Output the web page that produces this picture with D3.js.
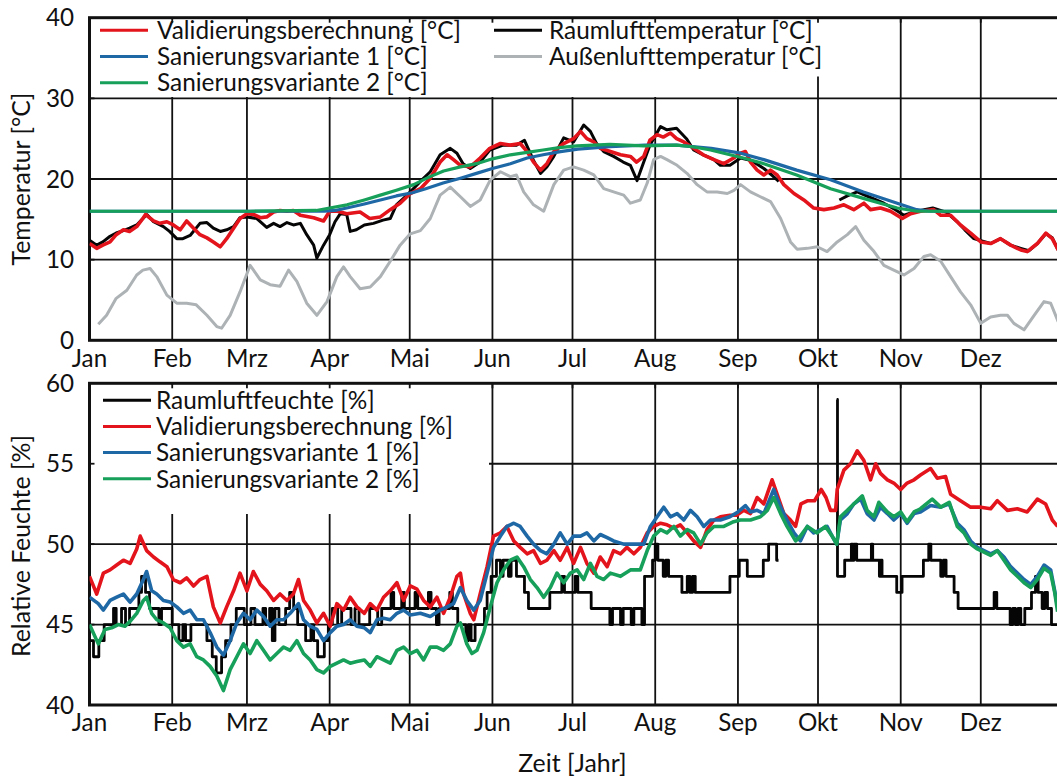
<!DOCTYPE html>
<html><head><meta charset="utf-8">
<script src="https://cdn.jsdelivr.net/npm/d3@7"></script>
<style>html,body{margin:0;padding:0;background:#fff}svg{display:block}</style>
</head><body>
<script>
// ---------- DATA (day of year, value) ----------
const monthNames = ["Jan","Feb","Mrz","Apr","Mai","Jun","Jul","Aug","Sep","Okt","Nov","Dez"];
const tempTicks = [0,10,20,30,40];
const rhTicks = [40,45,50,55,60];

const tempLabels = ["Validierungsberechnung [°C]","Sanierungsvariante 1 [°C]","Sanierungsvariante 2 [°C]","Raumlufttemperatur [°C]","Außenlufttemperatur [°C]"];
const rhLabels = ["Raumluftfeuchte [%]","Validierungsberechnung [%]","Sanierungsvariante 1 [%]","Sanierungsvariante 2 [%]"];

const raumTemp = [[0,12.4],[2.7,11.8],[5,12.2],[7.7,12.9],[10,13.3],[12.7,13.6],[15,13.9],[17.7,14.3],[20,15.1],[21.5,15.6],[24,14.7],[27.7,14.1],[30,13.5],[32.7,12.6],[35,12.6],[37.7,13.0],[41.4,14.5],[44,14.6],[46.4,13.9],[49,13.5],[51.4,13.7],[54,14.1],[56.4,15.2],[59,15.3],[62.7,15.1],[66.4,14.0],[69,14.5],[71.4,14.1],[74,14.6],[76.4,14.3],[79,14.5],[81.4,13.1],[84,11.8],[85.2,10.2],[87.7,11.8],[90,13.1],[92,14.7],[94,15.7],[96.4,15.6],[97.7,13.5],[100,13.7],[103,14.3],[106.4,14.5],[110,14.9],[112.7,15.1],[115,16.8],[119,18.0],[121.4,18.8],[124,19.7],[127.7,20.9],[131.4,23.0],[135.2,23.8],[137.7,23.2],[140,21.9],[142.7,21.3],[146.4,22.1],[150,23.6],[155,24.2],[160,24.2],[163,24.8],[166.4,22.3],[169,20.7],[171.4,21.5],[174,22.8],[177.7,25.1],[181.4,24.6],[185.2,26.7],[187.7,25.9],[190,24.4],[192.7,23.4],[196.4,22.8],[200,22.1],[202.7,21.7],[205.2,19.8],[207.7,22.1],[210,24.2],[214,26.5],[216.4,26.1],[220,26.3],[223.7,25.0],[226.4,23.6],[230,23.0],[234,22.4],[236.4,21.7],[240,21.7],[244,22.6],[248,22.3],[252.7,21.3],[256,20.4],[258.3,19.7],[259,null],[281,17.4],[284,17.9],[287.7,18.4],[292,17.8],[297.7,17.0],[302,16.2],[305.2,15.5],[310,16.0],[316,16.4],[321,15.9],[325.2,14.7],[328,13.7],[331.4,12.6],[337.7,12.0],[341.4,12.6],[345.2,11.8],[349,11.4],[352,11.1],[355.2,12.0],[358.4,13.2],[360.8,12.7],[363,11.2]];

const validTemp = [[0,12.0],[2.7,11.4],[5,11.8],[7.7,12.2],[10,13.1],[12.7,13.7],[15,13.5],[17.7,14.1],[20,15.1],[21,15.6],[24,14.8],[26.4,14.5],[29,14.7],[31.4,14.3],[34,13.7],[36.4,14.8],[39,13.9],[41.4,13.1],[44,12.7],[46.4,12.2],[49,11.6],[51.4,12.6],[54,13.9],[56.4,15.1],[59,15.7],[61.5,15.6],[64,15.2],[66.4,15.3],[69,15.9],[71.4,16.1],[74,16.0],[76.4,16.1],[79,15.5],[84,15.2],[87.7,14.8],[90,16.0],[93,16.0],[96.4,15.7],[101.4,15.9],[105,15.1],[109,15.3],[112.7,16.2],[116.4,17.0],[120.2,18.2],[124,18.8],[127.7,20.1],[131.4,22.1],[134,23.0],[136.4,22.4],[139,21.7],[142.7,21.5],[146.4,22.6],[150,23.8],[154,24.4],[157.7,24.2],[161.4,24.4],[164,23.4],[166.4,22.1],[169,21.1],[171.4,21.9],[174,23.4],[177.7,24.4],[181.4,25.0],[184,25.9],[186.4,25.0],[189,24.6],[191.4,23.8],[195.2,23.4],[199,23.0],[202.7,22.8],[205,22.1],[207.7,22.8],[210,24.8],[212.7,25.5],[215,25.2],[217.7,25.7],[220,25.0],[222.7,24.6],[226.4,23.8],[230,23.0],[234,22.4],[237.7,21.9],[241.4,22.6],[244,23.2],[245.8,23.4],[247.7,22.1],[250.2,21.1],[252.7,20.5],[255.2,21.1],[257.7,20.5],[260.2,19.3],[264,18.2],[267.7,17.4],[271.4,16.4],[275.2,16.2],[279,16.4],[282.7,16.8],[286.4,16.2],[290.2,17.0],[292.7,16.2],[296.4,16.4],[300.2,16.0],[304.6,15.1],[307.7,15.7],[311.4,16.0],[316.4,16.2],[319,15.5],[322.7,15.5],[326.4,14.3],[330.2,13.3],[334,12.2],[337.7,12.0],[341.4,12.6],[345.2,11.8],[349,11.2],[351.4,11.0],[355.2,12.0],[358.4,13.3],[360.8,12.6],[363,11.2]];

const san1Temp = [[0,16],[60,16],[88,16],[92,16.1],[96.4,16.4],[103,16.9],[109,17.4],[115,17.9],[121,18.3],[126,18.8],[132.5,19.5],[139,20.1],[145,20.7],[151,21.3],[157.7,21.9],[164,22.6],[170,23.0],[176.5,23.4],[183,23.7],[195,24.0],[208,24.2],[220,24.2],[233,23.8],[244,23.2],[252.7,22.4],[265,21.1],[277.7,19.9],[290,18.4],[302.7,17.0],[310,16.2],[315,16.0],[363,16.0]];

const san2Temp = [[0,16],[60,16],[85,16.1],[90,16.4],[96.5,16.8],[103,17.4],[109,18.0],[115,18.6],[121.5,19.3],[127,20.2],[132.7,21.0],[139,21.5],[145,21.9],[151,22.5],[157.7,23.0],[164,23.3],[170,23.6],[176,23.9],[182.7,24.1],[195,24.3],[207.7,24.1],[220,24.2],[226,24.0],[232.7,23.6],[240,23.0],[245,22.6],[252.7,21.9],[265,20.5],[277.7,18.8],[290,17.6],[302.7,16.4],[310,16.0],[363,16.0]];

const aussenTemp = [[3.3,2.0],[6.4,3.1],[10,5.2],[14,6.2],[17.7,8.1],[20,8.7],[22.7,8.9],[25.2,7.9],[29,5.6],[32.7,4.6],[36.4,4.6],[40,4.4],[44,3.1],[47.7,1.7],[49.5,1.5],[52.7,3.1],[56.4,6.0],[60.2,9.3],[64,7.5],[67.7,6.9],[71.4,6.7],[74.6,8.7],[77.7,7.3],[81.4,4.6],[85.2,3.1],[89,4.8],[92.7,7.9],[95.2,9.1],[97.7,7.9],[101.4,6.4],[105.2,6.6],[109,7.9],[112.7,9.8],[116.4,11.8],[120.2,13.2],[124,13.6],[127.7,15.1],[131.4,18.0],[135.2,19.0],[139,17.8],[142.7,16.6],[146.4,17.4],[150.2,19.9],[154,20.9],[157.7,20.3],[160,20.5],[162.7,18.4],[166.4,16.8],[170.2,16.0],[174,19.3],[177.7,21.1],[181.4,21.5],[185.2,21.1],[189,20.5],[192.7,18.8],[196.4,18.4],[200.2,18.0],[202.7,17.0],[206.4,17.4],[209,19.5],[211.4,22.4],[214,22.8],[216.4,22.4],[220.2,21.7],[223.9,20.7],[227.7,19.3],[231.4,18.4],[235.2,18.4],[239,18.2],[241.5,18.6],[244,19.3],[247.7,18.4],[251.4,17.8],[255.2,17.2],[259,15.1],[262.7,12.2],[265.2,11.3],[269,11.4],[272.7,11.6],[276.4,11.0],[280.2,12.2],[284,13.1],[287.1,14.1],[290.2,12.4],[294,11.0],[297.7,9.3],[301.4,8.7],[305.2,8.1],[309,8.9],[312.7,10.4],[315.2,10.6],[319,9.8],[322.7,7.9],[326.4,6.0],[330.2,4.4],[334,2.1],[337.7,2.9],[341.4,3.1],[344,3.1],[346.4,2.1],[350.2,1.3],[354,3.1],[357.7,4.8],[360.2,4.6],[363,2.3]];

const raumRH = [[0,44],[1.5,43],[3.5,44],[5.5,45],[9,46],[10,45],[12,46],[13.5,45],[15,46],[18.5,47],[19.5,48],[21,47],[22.5,46],[26,45],[27,46],[29.5,46],[31,45],[33.5,44],[35,45],[36,44],[38,45],[44,44],[46,43],[47.5,42],[49.5,43],[51,44],[53,45],[55,46],[58,45],[60.5,46],[62,45],[65,46],[66,45],[67.5,46],[68.5,44],[69.5,46],[71,45],[73.5,46],[75,47],[76.5,46],[78,45],[81,44],[83,45],[84,44],[85.5,43],[88,44],[89.5,45],[91,46],[93,45],[94.5,46],[98,45],[99.5,46],[101,45],[103,45],[105,46],[108,45],[109.5,46],[113,47],[114,46],[117,47],[118,46],[122,47],[123,46],[127,47],[128,46],[130,45],[131,46],[135,47],[136,46],[138,45],[141,44],[142,45],[143,44],[144.5,45],[148,46],[149,47],[150.5,48],[152.5,49],[154,48],[155,49],[157,48],[158,49],[160,48],[163,47],[164.5,46],[172.5,47],[177,48],[178,47],[182,48],[183,47],[188,46],[195,45],[196,46],[199,45],[200,46],[203,45],[204,46],[207,45],[208,48],[211,49],[212,50],[213,49],[215,48],[216,49],[217,48],[222,47],[224,48],[225,47],[226,48],[227,47],[240,48],[243.5,49],[246.5,48],[252.5,49],[254.5,50],[257.5,49],[258.2,49],[258.3,null],[280,59],[280.3,48],[283,49],[285.5,50],[286,49],[286.5,50],[287.5,49],[293,50],[293.5,49],[296,48],[296.5,49],[297,48],[302.5,47],[304.5,48],[312.5,49],[314.5,50],[315.3,49],[319,48],[320,49],[321,48],[324,47],[325.5,46],[339,47],[340,46],[345,45],[346,46],[347,45],[348,46],[349,45],[350.5,46],[353,47],[354.5,48],[355.5,47],[357,46],[358,47],[359,46],[360.5,45],[363,45]];

const validRH = [[0,48.0],[2.7,46.9],[5.2,48.2],[7.7,48.4],[10.2,48.7],[12.7,49.0],[15.2,48.8],[17.7,49.7],[19,50.5],[21.4,49.6],[24,49.2],[26.4,48.9],[29,48.6],[31.4,47.8],[34,47.6],[36.4,47.9],[39,47.4],[41.4,47.8],[44,48.0],[46.4,46.1],[49,45.1],[51.4,46.1],[54,47.1],[56.4,48.2],[59,47.1],[61.4,48.3],[64,47.5],[66.4,47.1],[69,46.5],[71.4,46.9],[74,46.5],[76.4,46.9],[78.3,47.8],[80.2,46.5],[82.7,45.9],[85.2,45.1],[87.7,45.7],[90.2,44.9],[92.7,46.3],[95.2,45.9],[97.7,46.7],[100.2,46.1],[103,45.7],[105.2,46.3],[107.7,45.9],[110.2,46.7],[112.7,47.1],[115.2,47.6],[117.7,46.5],[120.2,47.4],[122.7,47.2],[125.2,46.5],[127.7,46.1],[130.2,46.7],[132.7,45.7],[135.2,46.7],[137.7,48.0],[139,48.2],[140.2,46.9],[142.7,45.7],[144,45.3],[146.4,46.9],[149,48.6],[151.4,50.5],[154,50.7],[156.4,51.1],[159,50.2],[161.4,49.8],[164,49.4],[166.4,49.6],[169,48.8],[171.4,49.0],[174,49.6],[176.4,49.0],[179,49.8],[181.4,48.8],[184,49.8],[186.4,48.8],[189,48.2],[191.4,49.2],[194,48.6],[196.4,49.6],[199,49.4],[201.4,49.8],[204,49.4],[206.4,49.8],[209,50.7],[211.4,51.1],[214,51.3],[216.4,51.2],[219,51.0],[221.4,51.2],[224,50.7],[226.4,50.2],[229,49.8],[231.4,50.9],[234,51.5],[236.4,51.7],[240,51.8],[242.5,51.8],[245.2,52.1],[247.7,51.9],[250.2,52.9],[252.7,52.5],[255.8,54.0],[257.7,53.1],[260.2,51.9],[262.7,51.5],[264.6,51.1],[266.6,52.5],[269.2,52.7],[271.7,52.7],[274.2,53.4],[276,52.9],[277.7,52.1],[279.6,52.1],[280.2,53.4],[282.7,54.6],[285.2,55.0],[287.7,55.8],[290.2,55.2],[292.7,54.0],[294.6,55.0],[296.4,54.4],[299,54.0],[301.4,53.8],[304,53.4],[306.4,53.8],[309,54.0],[311.4,54.3],[315.2,54.7],[317.7,54.1],[320.8,54.2],[322.7,53.1],[326.4,52.7],[330.2,52.3],[334,52.3],[337.7,52.2],[340.2,52.7],[344,52.1],[347.7,52.2],[351.4,52.0],[355.2,52.8],[358.3,52.5],[360.8,51.5],[362.8,51.1]];

const san1RH = [[0,46.7],[3.3,46.3],[5.2,45.9],[7.7,46.5],[10.2,46.7],[12.7,46.9],[15.2,46.4],[17.7,46.9],[20.2,47.8],[21.4,48.3],[23.3,47.1],[25.2,46.9],[27.7,46.5],[30.2,46.4],[32.7,46.1],[35.2,45.7],[37.7,45.9],[40.2,45.3],[42.7,45.3],[45.2,44.5],[47.7,43.6],[50.2,43.1],[52.7,44.0],[55.2,45.1],[57.7,45.7],[60.2,45.3],[62.7,45.9],[65.2,45.5],[67.7,44.9],[70.2,45.3],[72.7,45.3],[75.2,45.7],[78.3,46.3],[80.2,45.3],[82.7,44.9],[85.2,44.7],[87.7,44.0],[90.2,44.5],[92.7,44.9],[95.2,45.0],[97.7,45.3],[100.2,44.9],[103,44.8],[105.2,44.5],[107.7,45.3],[110.2,45.4],[112.7,45.3],[115.2,45.7],[117.7,45.9],[120.2,45.6],[124,45.7],[127.7,45.5],[131.4,45.9],[134,46.1],[136.4,46.3],[139,47.3],[141.4,46.5],[144,45.9],[146.4,46.5],[149,48.2],[151.4,49.8],[154,50.5],[156.4,51.1],[159,51.3],[161.4,51.1],[164,50.5],[166.4,50.0],[169,49.6],[171.4,49.4],[174,50.0],[176.4,50.7],[179,50.0],[181.4,50.5],[184,50.5],[186.4,50.7],[189,50.2],[191.4,50.6],[194,50.4],[196.4,50.2],[200.2,50.0],[204,50.0],[207.7,50.0],[210.2,51.1],[212.7,51.7],[215.2,52.3],[217.7,51.7],[220.2,51.9],[222.7,51.5],[225.2,52.1],[227.7,51.7],[230.2,51.1],[232.7,51.5],[236.4,51.5],[240,51.7],[243,52.0],[245.8,52.4],[247.7,52.0],[250.2,52.1],[252.7,51.9],[256.4,53.4],[259,52.3],[261.4,51.5],[264,50.7],[266.4,50.2],[269,51.1],[271.4,50.7],[274,50.9],[276.4,51.1],[278.3,50.5],[280,50.0],[281.4,51.5],[284,51.9],[286.4,52.5],[289,52.8],[291.4,51.9],[294,51.5],[296.4,52.3],[299,51.9],[301.4,51.5],[304,51.9],[306.4,51.3],[309,51.9],[311.4,52.0],[315.2,52.4],[319,52.3],[322.2,52.5],[325.2,51.3],[327.7,50.9],[330.2,50.2],[332.7,49.8],[335.2,49.6],[337.7,49.4],[340.2,49.6],[342.7,49.2],[345.2,48.6],[347.7,48.2],[350.2,47.8],[352.7,47.5],[355.2,48.0],[357.7,48.7],[360.2,48.4],[361.7,47.1],[362.8,46.1]];

const san2RH = [[0,45.0],[3.3,43.8],[5.8,44.7],[8.3,44.8],[10.8,45.0],[13.3,44.9],[15.2,45.2],[17.7,45.7],[20.2,46.5],[21.4,46.7],[23.3,45.7],[25.2,45.3],[27.7,45.1],[30.2,44.8],[32.7,44.0],[35.2,43.6],[37.7,43.8],[40.2,43.0],[42.7,42.8],[45.2,42.4],[47.7,41.8],[50.2,40.9],[52.7,42.2],[55.2,43.0],[57.7,43.8],[60.2,43.2],[62.7,44.0],[65.2,43.4],[67.7,42.8],[70.2,43.2],[72.7,43.6],[75.2,43.4],[77.7,44.0],[80.2,43.2],[82.7,42.8],[85.2,42.2],[87.7,42.0],[90.2,42.4],[92.7,42.6],[95.2,42.8],[97.7,42.6],[100.2,42.7],[103,42.8],[105.2,42.4],[107.7,43.0],[110.2,42.8],[112.7,42.6],[115.2,43.4],[117.7,43.6],[120.2,43.2],[122.7,43.4],[125.2,42.8],[127.7,43.6],[130.2,43.6],[132.7,43.4],[135.2,43.8],[137.7,44.9],[139,45.1],[141.4,43.8],[143.3,43.2],[145.2,43.4],[147.7,44.5],[150.2,46.1],[152.7,47.6],[155.2,48.4],[157.7,49.0],[160.2,49.2],[162.7,48.6],[165.2,47.8],[167.7,47.3],[170.2,46.7],[172.7,47.3],[175.2,48.2],[177.7,47.6],[180.2,48.2],[182.7,48.4],[185.2,47.8],[187.7,48.8],[190.2,48.0],[192.7,47.8],[195.2,48.2],[199,48.0],[202.7,48.4],[206.4,48.4],[209,49.6],[211.4,50.5],[214,50.9],[216.4,50.7],[219,51.1],[221.4,50.5],[224,50.9],[226.4,50.7],[229,50.0],[231.4,50.7],[234,51.1],[237.7,51.1],[241.4,51.4],[243.9,51.5],[247.7,51.5],[251.4,51.7],[254,52.1],[256.4,52.9],[259,51.9],[261.4,51.1],[264.6,50.2],[266.4,50.5],[269,51.1],[272.7,50.7],[275.8,51.1],[278.3,50.5],[280,50.0],[281.4,51.7],[284,52.1],[286.4,52.5],[289.6,53.0],[291.4,52.1],[294,51.7],[295.8,52.6],[299,52.0],[301.4,51.7],[304,52.0],[306.4,51.4],[309,52.0],[311.4,52.2],[315.8,52.8],[319,52.3],[322.2,52.6],[325.2,51.1],[327.7,50.7],[330.2,50.0],[332.7,49.7],[335.2,49.5],[337.7,49.3],[340.2,49.6],[342.7,49.0],[345.2,48.4],[347.7,48.0],[350.2,47.6],[352.7,47.3],[355.2,47.8],[357.7,48.5],[360.2,48.2],[361.7,47.0],[362.8,45.8]];

// ---------- LAYOUT ----------
const W = 1057, H = 778;
const FONT = "Lato, 'Open Sans', sans-serif";
const C = {red:"#e3141b", blue:"#1f68a6", green:"#16a05a", black:"#050505", gray:"#adb2b5"};
const X0 = 89.5, X1 = 1063.5;
const topP = {y0: 17.7, y1: 340.3};
const botP = {y0: 383.3, y1: 705};

const t0 = Date.UTC(2021,0,1), t1 = Date.UTC(2022,0,1);
const x = d3.scaleUtc().domain([new Date(t0), new Date(t1)]).range([X0, X1]);
const dayDate = d => new Date(t0 + d*864e5);
const yT = d3.scaleLinear().domain([0,40]).range([topP.y1, topP.y0]);
const yH = d3.scaleLinear().domain([40,60]).range([botP.y1, botP.y0]);
const months = d3.utcMonth.range(new Date(t0), new Date(t1));

const svg = d3.select("body").append("svg").attr("width", W).attr("height", H)
  .style("font-family", FONT);
svg.append("rect").attr("width", W).attr("height", H).attr("fill", "#fff");

function fitSize(str, targetW, base) {
  const t = svg.append("text").attr("font-size", base).text(str);
  const w = t.node().getComputedTextLength();
  t.remove();
  return w > 0 ? base * targetW / w : base;
}
const fsLegend = fitSize("Validierungsberechnung [°C]", 304, 20);
const fsTitle = fitSize("Relative Feuchte [%]", 222, 20);
const fsTick = fitSize("Mai", 40, 20);

function panel(y, ticks, legendBoxes) {
  const g = svg.append("g");
  const ya = y.range()[1], yb = y.range()[0];
  g.selectAll(".vg").data(months.slice(1)).join("line")
    .attr("x1", d => x(d)).attr("x2", d => x(d)).attr("y1", ya).attr("y2", yb)
    .attr("stroke", "#111").attr("stroke-width", 1.8);
  g.selectAll(".hg").data(ticks.slice(1, -1)).join("line")
    .attr("x1", X0).attr("x2", X1).attr("y1", d => y(d)).attr("y2", d => y(d))
    .attr("stroke", "#111").attr("stroke-width", 1.8);
  legendBoxes.forEach(b => g.append("rect").attr("x", b[0]).attr("y", b[1])
    .attr("width", b[2]-b[0]).attr("height", b[3]-b[1]).attr("fill", "#fff"));
  g.selectAll(".tt").data(months.slice(1)).join("line")
    .attr("x1", d => x(d)).attr("x2", d => x(d)).attr("y1", ya).attr("y2", ya + 5)
    .attr("stroke", "#111").attr("stroke-width", 1.8);
  g.selectAll(".lt").data(ticks.slice(1, -1)).join("line")
    .attr("x1", X0).attr("x2", X0 + 5).attr("y1", d => y(d)).attr("y2", d => y(d))
    .attr("stroke", "#111").attr("stroke-width", 1.8);
  g.append("rect").attr("x", X0).attr("y", ya).attr("width", X1 - X0).attr("height", yb - ya)
    .attr("fill", "none").attr("stroke", "#111").attr("stroke-width", 3);
  g.selectAll(".yl").data(ticks).join("text")
    .attr("x", 74).attr("y", d => y(d)).attr("dy", "0.36em").attr("text-anchor", "end")
    .attr("font-size", fsTick).attr("fill", "#111").text(d => d);
  g.selectAll(".xl").data(months).join("text")
    .attr("x", d => x(d)).attr("y", yb + 17.5).attr("dy", "0.36em").attr("text-anchor", "middle")
    .attr("font-size", fsTick).attr("fill", "#111").text((d, i) => monthNames[i]);
  return g;
}

panel(yT, tempTicks, [[X0+1.5, topP.y0+1.5, 780, 97], [780, topP.y0+1.5, 860, 76.5]]);
panel(yH, rhTicks, [[X0+1.5, botP.y0+1.5, 489, 514]]);

svg.append("clipPath").attr("id", "clipT").append("rect")
  .attr("x", X0).attr("y", topP.y0).attr("width", X1 - X0).attr("height", topP.y1 - topP.y0);
svg.append("clipPath").attr("id", "clipH").append("rect")
  .attr("x", X0).attr("y", botP.y0).attr("width", X1 - X0).attr("height", botP.y1 - botP.y0);

function drawLine(data, y, color, clip, sw, curve) {
  const line = d3.line().defined(d => d[1] != null)
    .x(d => x(dayDate(d[0]))).y(d => y(d[1])).curve(curve || d3.curveLinear);
  svg.append("path").datum(data).attr("d", line).attr("fill", "none")
    .attr("stroke", color).attr("stroke-width", sw).attr("stroke-linejoin", "round")
    .attr("clip-path", `url(#${clip})`);
}
drawLine(aussenTemp, yT, C.gray, "clipT", 3);
drawLine(raumTemp, yT, C.black, "clipT", 3);
drawLine(validTemp, yT, C.red, "clipT", 3.6);
drawLine(san1Temp, yT, C.blue, "clipT", 3.2);
drawLine(san2Temp, yT, C.green, "clipT", 3.2);

drawLine(raumRH, yH, C.black, "clipH", 2.8, d3.curveStepAfter);
drawLine(validRH, yH, C.red, "clipH", 3.6);
drawLine(san1RH, yH, C.blue, "clipH", 3.6);
drawLine(san2RH, yH, C.green, "clipH", 3.6);

function legend(items, x0, xText, y0, dy) {
  items.forEach((it, i) => {
    const yy = y0 + i * dy;
    svg.append("line").attr("x1", x0).attr("x2", x0 + 48).attr("y1", yy).attr("y2", yy)
      .attr("stroke", it[1]).attr("stroke-width", 3);
    svg.append("text").attr("x", xText).attr("y", yy).attr("dy", "0.36em")
      .attr("font-size", fsLegend).attr("fill", "#111").text(it[0]);
  });
}
legend([[tempLabels[0], C.red], [tempLabels[1], C.blue], [tempLabels[2], C.green]], 100, 157, 30.3, 26.2);
legend([[tempLabels[3], C.black], [tempLabels[4], C.gray]], 494, 549, 30.3, 26.2);
legend([[rhLabels[0], C.black], [rhLabels[1], C.red], [rhLabels[2], C.blue], [rhLabels[3], C.green]], 103, 156, 400.2, 26.2);

svg.append("text").attr("transform", "translate(21.5,179) rotate(-90)").attr("text-anchor", "middle")
  .attr("dy", "0.36em").attr("font-size", fsTitle).attr("fill", "#111").text("Temperatur [°C]");
svg.append("text").attr("transform", "translate(21.5,546) rotate(-90)").attr("text-anchor", "middle")
  .attr("dy", "0.36em").attr("font-size", fsTitle).attr("fill", "#111").text("Relative Feuchte [%]");
svg.append("text").attr("x", 572.5).attr("y", 763).attr("dy", "0.36em").attr("text-anchor", "middle")
  .attr("font-size", fsTitle).attr("fill", "#111").text("Zeit [Jahr]");
</script>
</body></html>
